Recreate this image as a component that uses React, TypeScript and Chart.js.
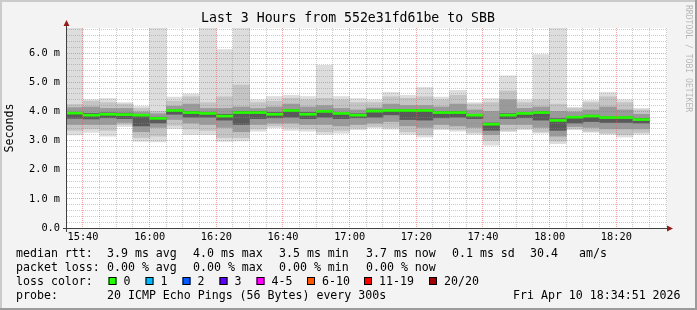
import React, { useEffect, useRef } from "react";
import { Chart, registerables } from "chart.js";

Chart.register(...registerables);

// ---- data ----
const BIN_STARTS = [
  "15:35", "15:40", "15:45", "15:50", "15:55", "16:00", "16:05", "16:10", "16:15", "16:20",
  "16:25", "16:30", "16:35", "16:40", "16:45", "16:50", "16:55", "17:00", "17:05", "17:10",
  "17:15", "17:20", "17:25", "17:30", "17:35", "17:40", "17:45", "17:50", "17:55", "18:00",
  "18:05", "18:10", "18:15", "18:20", "18:25",
];
// values in milliseconds
const MAX_V = [6.86, 4.40, 4.44, 4.30, 4.17, 6.86, 4.49, 4.60, 6.86, 6.12, 6.86, 4.40, 4.51, 4.55, 4.51, 5.58, 4.51, 4.44, 4.40, 4.65, 4.55, 4.82, 4.49, 4.72, 4.30, 4.44, 5.22, 4.40, 5.95, 6.86, 4.14, 4.37, 4.65, 4.40, 4.10];
const Q90 = [4.24, 4.35, 4.30, 4.25, 4.10, 4.00, 4.35, 4.50, 4.30, 4.50, 4.90, 4.30, 4.35, 4.45, 4.40, 4.45, 4.40, 4.30, 4.30, 4.50, 4.45, 4.50, 4.40, 4.55, 4.25, 4.30, 4.70, 4.30, 4.40, 4.25, 4.10, 4.30, 4.50, 4.30, 4.05];
const Q75 = [4.13, 4.15, 4.10, 4.10, 3.98, 3.92, 4.18, 4.25, 4.10, 4.10, 4.15, 4.10, 4.15, 4.25, 4.15, 4.20, 4.10, 4.05, 4.12, 4.25, 4.20, 4.20, 4.15, 4.25, 4.05, 4.00, 4.40, 4.10, 4.15, 4.00, 3.98, 4.05, 4.15, 4.05, 3.90];
const Q60 = [3.97, 3.93, 3.95, 3.94, 3.90, 3.80, 4.06, 4.00, 3.97, 3.90, 4.00, 4.00, 3.96, 4.07, 3.96, 4.04, 3.96, 3.92, 4.05, 4.06, 4.06, 4.06, 3.99, 3.99, 3.90, 3.60, 3.92, 3.96, 3.99, 3.75, 3.83, 3.87, 3.82, 3.82, 3.76];
const MEDIAN = [3.94, 3.87, 3.90, 3.89, 3.87, 3.76, 4.03, 3.96, 3.93, 3.84, 3.96, 3.96, 3.90, 4.03, 3.90, 4.00, 3.93, 3.87, 4.01, 4.03, 4.03, 4.03, 3.96, 3.96, 3.87, 3.56, 3.87, 3.93, 3.96, 3.69, 3.80, 3.84, 3.79, 3.79, 3.72];
const Q40 = [3.76, 3.74, 3.78, 3.75, 3.50, 3.60, 3.90, 3.80, 3.80, 3.70, 3.55, 3.75, 3.78, 3.80, 3.75, 3.80, 3.75, 3.78, 3.80, 3.88, 3.72, 3.70, 3.78, 3.80, 3.75, 3.35, 3.75, 3.78, 3.70, 3.35, 3.60, 3.65, 3.62, 3.62, 3.60];
const Q25 = [3.55, 3.55, 3.55, 3.62, 3.30, 3.45, 3.72, 3.60, 3.55, 3.45, 3.30, 3.55, 3.60, 3.60, 3.55, 3.55, 3.50, 3.55, 3.60, 3.65, 3.50, 3.45, 3.55, 3.50, 3.45, 3.20, 3.55, 3.55, 3.45, 3.15, 3.48, 3.45, 3.40, 3.40, 3.40];
const Q10 = [3.35, 3.40, 3.35, 3.55, 3.10, 3.15, 3.52, 3.40, 3.35, 3.10, 3.10, 3.40, 3.50, 3.45, 3.40, 3.30, 3.35, 3.42, 3.48, 3.45, 3.30, 3.20, 3.42, 3.38, 3.28, 3.00, 3.35, 3.42, 3.30, 2.98, 3.40, 3.32, 3.25, 3.20, 3.28];
const MIN_V = [3.19, 3.28, 3.15, 3.48, 2.97, 2.95, 3.41, 3.20, 3.20, 2.97, 2.99, 3.32, 3.44, 3.35, 3.32, 3.21, 3.25, 3.37, 3.44, 3.39, 3.21, 3.12, 3.37, 3.32, 3.21, 2.84, 3.30, 3.37, 3.25, 2.89, 3.37, 3.28, 3.21, 3.12, 3.21];

const X_START = "15:35:12";
const X_END = "18:35:12";
const Y_MAX = 6.86;
const BIN_MINUTES = 5;

const TITLE = "Last 3 Hours from 552e31fd61be to SBB";
const Y_TITLE = "Seconds";
const WATERMARK = "RRDTOOL / TOBI OETIKER";

const LEGEND_ROW1 = ["median rtt:", "3.9 ms avg", "4.0 ms max", "3.5 ms min", "3.7 ms now", "0.1 ms sd", "30.4", "am/s"];
const LEGEND_ROW2 = ["packet loss:", "0.00 % avg", "0.00 % max", "0.00 % min", "0.00 % now"];
const LOSS_LABELS = ["0", "1", "2", "3", "4-5", "6-10", "11-19", "20/20"];
const LOSS_COLORS = ["#26ff00", "#00b8ff", "#0059ff", "#5e00ff", "#ff00ff", "#ff5500", "#ff0000", "#a10000"];
const PROBE_LABEL = "probe:";
const PROBE_TEXT = "20 ICMP Echo Pings (56 Bytes) every 300s";
const DATE_TEXT = "Fri Apr 10 18:34:51 2026";

// ---- helpers ----
const toMin = (s: string) => {
  const p = s.split(":").map(Number);
  return p[0] * 60 + p[1] + (p[2] || 0) / 60;
};
const fmt = (m: number) => {
  const h = Math.floor(m / 60);
  const mm = Math.round(m - h * 60);
  return `${String(h).padStart(2, "0")}:${String(mm).padStart(2, "0")}`;
};

const MONO = "'DejaVu Sans Mono', monospace";
const MAJOR = "rgba(235,90,90,0.55)";
const MINOR = "rgba(140,140,140,0.45)";

export default function App() {
  const ref = useRef<HTMLCanvasElement>(null);

  useEffect(() => {
    const canvas = ref.current!;
    const xMin = toMin(X_START);
    const xMax = toMin(X_END);
    const centers = BIN_STARTS.map((s) => toMin(s) + BIN_MINUTES / 2);
    const band = (lo: number[], hi: number[]) => centers.map((x, i) => ({ x, y: [lo[i], hi[i]] }));
    const swidth = Y_MAX / 200; // ~1px of value

    const decor = {
      id: "decor",
      beforeDraw(chart: any) {
        const { ctx, chartArea: a, width, height } = chart;
        ctx.save();
        ctx.fillStyle = "#f3f3f3";
        ctx.fillRect(0, 0, width, height);
        ctx.fillStyle = "#cbcbcb";
        ctx.fillRect(0, 0, width, 2);
        ctx.fillRect(0, 0, 2, height);
        ctx.fillStyle = "#9b9b9b";
        ctx.fillRect(0, height - 2, width, 2);
        ctx.fillRect(width - 2, 0, 2, height);
        ctx.fillStyle = "#ffffff";
        ctx.fillRect(a.left, a.top, a.right - a.left, a.bottom - a.top);
        ctx.restore();
      },
      afterDraw(chart: any) {
        const { ctx, chartArea: a } = chart;
        ctx.save();
        // axes
        ctx.strokeStyle = "#404040";
        ctx.lineWidth = 1;
        ctx.beginPath();
        ctx.moveTo(a.left - 0.5, a.bottom + 4);
        ctx.lineTo(a.left - 0.5, a.top - 3);
        ctx.moveTo(a.left - 4, a.bottom + 0.5);
        ctx.lineTo(a.right + 1, a.bottom + 0.5);
        ctx.stroke();
        ctx.fillStyle = "#921c1c";
        ctx.beginPath();
        ctx.moveTo(a.left - 0.5, a.top - 8);
        ctx.lineTo(a.left - 3.5, a.top - 2);
        ctx.lineTo(a.left + 2.5, a.top - 2);
        ctx.closePath();
        ctx.fill();
        ctx.beginPath();
        ctx.moveTo(a.right + 6, a.bottom + 0.5);
        ctx.lineTo(a.right + 0, a.bottom - 2.5);
        ctx.lineTo(a.right + 0, a.bottom + 3.5);
        ctx.closePath();
        ctx.fill();

        // title
        ctx.fillStyle = "#000";
        ctx.textBaseline = "middle";
        ctx.textAlign = "center";
        ctx.font = `13.2px ${MONO}`;
        ctx.fillText(TITLE, 348, 19);

        // watermark
        ctx.save();
        ctx.translate(688, 5);
        ctx.rotate(Math.PI / 2);
        ctx.textAlign = "left";
        ctx.fillStyle = "#b8b8b8";
        ctx.font = `8.1px ${MONO}`;
        ctx.fillText(WATERMARK, 0, 0);
        ctx.restore();

        // legend
        ctx.textAlign = "left";
        ctx.fillStyle = "#000";
        ctx.font = `11.6px ${MONO}`;
        const r1x = [16, 107, 193, 279, 366, 452, 530, 579];
        LEGEND_ROW1.forEach((t, i) => ctx.fillText(t, r1x[i], 254));
        const r2x = [16, 107, 193, 279, 366];
        LEGEND_ROW2.forEach((t, i) => ctx.fillText(t, r2x[i], 268));
        ctx.fillText("loss color:", 16, 282);
        const bx = [108.5, 145.5, 182.5, 219.5, 256.5, 307, 364, 429];
        LOSS_LABELS.forEach((t, i) => {
          ctx.fillStyle = LOSS_COLORS[i];
          ctx.fillRect(bx[i], 277, 8, 8);
          ctx.strokeStyle = "#000";
          ctx.strokeRect(bx[i] + 0.5, 277.5, 7, 7);
          ctx.fillStyle = "#000";
          ctx.fillText(t, bx[i] + 15, 282);
        });
        ctx.fillText(PROBE_LABEL, 16, 296);
        ctx.fillText(PROBE_TEXT, 107, 296);
        ctx.fillText(DATE_TEXT, 513, 296);
        ctx.restore();
      },
    };

    const barCommon = { grouped: false, barPercentage: 1, categoryPercentage: 1, borderWidth: 0 };

    const xGridColor = (c: any) => {
      const v = c && c.tick ? c.tick.value : 1;
      return Math.round(v) % 20 === 0 ? MAJOR : MINOR;
    };
    const yGridColor = (c: any) => {
      const v = c && c.tick ? c.tick.value : 0.5;
      return Math.abs(v - Math.round(v)) < 1e-6 ? MAJOR : MINOR;
    };

    const chart = new Chart(canvas, {
      type: "bar",
      data: {
        datasets: [
          { ...barCommon, label: "min-max", data: band(MIN_V, MAX_V), backgroundColor: "#dddddd", order: 5 },
          { ...barCommon, label: "10-90", data: band(Q10, Q90), backgroundColor: "#c4c4c4", order: 4 },
          { ...barCommon, label: "25-75", data: band(Q25, Q75), backgroundColor: "#9a9a9a", order: 3 },
          { ...barCommon, label: "40-60", data: band(Q40, Q60), backgroundColor: "#5a5a5a", order: 2 },
          {
            ...barCommon,
            label: "median",
            data: band(MEDIAN.map((m) => m - swidth), MEDIAN.map((m) => m + swidth)),
            backgroundColor: LOSS_COLORS[0],
            order: 1,
          },
        ] as any,
      },
      plugins: [decor],
      options: {
        responsive: false,
        animation: false,
        devicePixelRatio: 1,
        events: [],
        layout: { padding: { left: 0, top: 28, right: 30, bottom: 62 } },
        plugins: { legend: { display: false }, tooltip: { enabled: false }, title: { display: false } },
        scales: {
          x: {
            type: "linear",
            min: xMin,
            max: xMax,
            offset: false,
            afterBuildTicks: (scale: any) => {
              const t: any[] = [];
              for (let m = Math.ceil(xMin / 5) * 5; m < xMax; m += 5) t.push({ value: m });
              scale.ticks = t;
            },
            afterFit: (scale: any) => {
              scale.height = 20;
            },
            grid: { z: 1, offset: false, drawTicks: false, lineWidth: 1, color: xGridColor },
            border: { display: false, dash: [1, 1] },
            ticks: {
              autoSkip: false,
              maxRotation: 0,
              padding: 3,
              color: "#000",
              font: { family: MONO, size: 10.3 },
              callback: (v: any) => (Math.round(v) % 20 === 0 ? fmt(v) : ""),
            },
          },
          y: {
            type: "linear",
            min: 0,
            max: Y_MAX,
            afterBuildTicks: (scale: any) => {
              const t: any[] = [];
              for (let i = 0; i * 0.2 <= Y_MAX + 1e-9; i++) t.push({ value: Math.round(i * 2) / 10 });
              scale.ticks = t;
            },
            afterFit: (scale: any) => {
              scale.width = 67;
            },
            grid: { z: 1, drawTicks: false, lineWidth: 1, color: yGridColor },
            border: { display: false, dash: [1, 1] },
            title: {
              display: true,
              text: Y_TITLE,
              color: "#000",
              font: { family: MONO, size: 11.6 },
              padding: { top: 3, bottom: 0 },
            },
            ticks: {
              autoSkip: false,
              padding: 7,
              color: "#000",
              font: { family: MONO, size: 10.3 },
              callback: (v: any) => {
                const r = Math.round(v * 10) / 10;
                if (Math.abs(r - Math.round(r)) > 1e-6) return "";
                return r === 0 ? "0.0" : `${r.toFixed(1)} m`;
              },
            },
          },
        },
      } as any,
    });
    return () => chart.destroy();
  }, []);

  return (
    <div style={{ position: "fixed", left: 0, top: 0, width: 697, height: 310 }}>
      <canvas ref={ref} width={697} height={310} style={{ display: "block", width: 697, height: 310 }} />
    </div>
  );
}
